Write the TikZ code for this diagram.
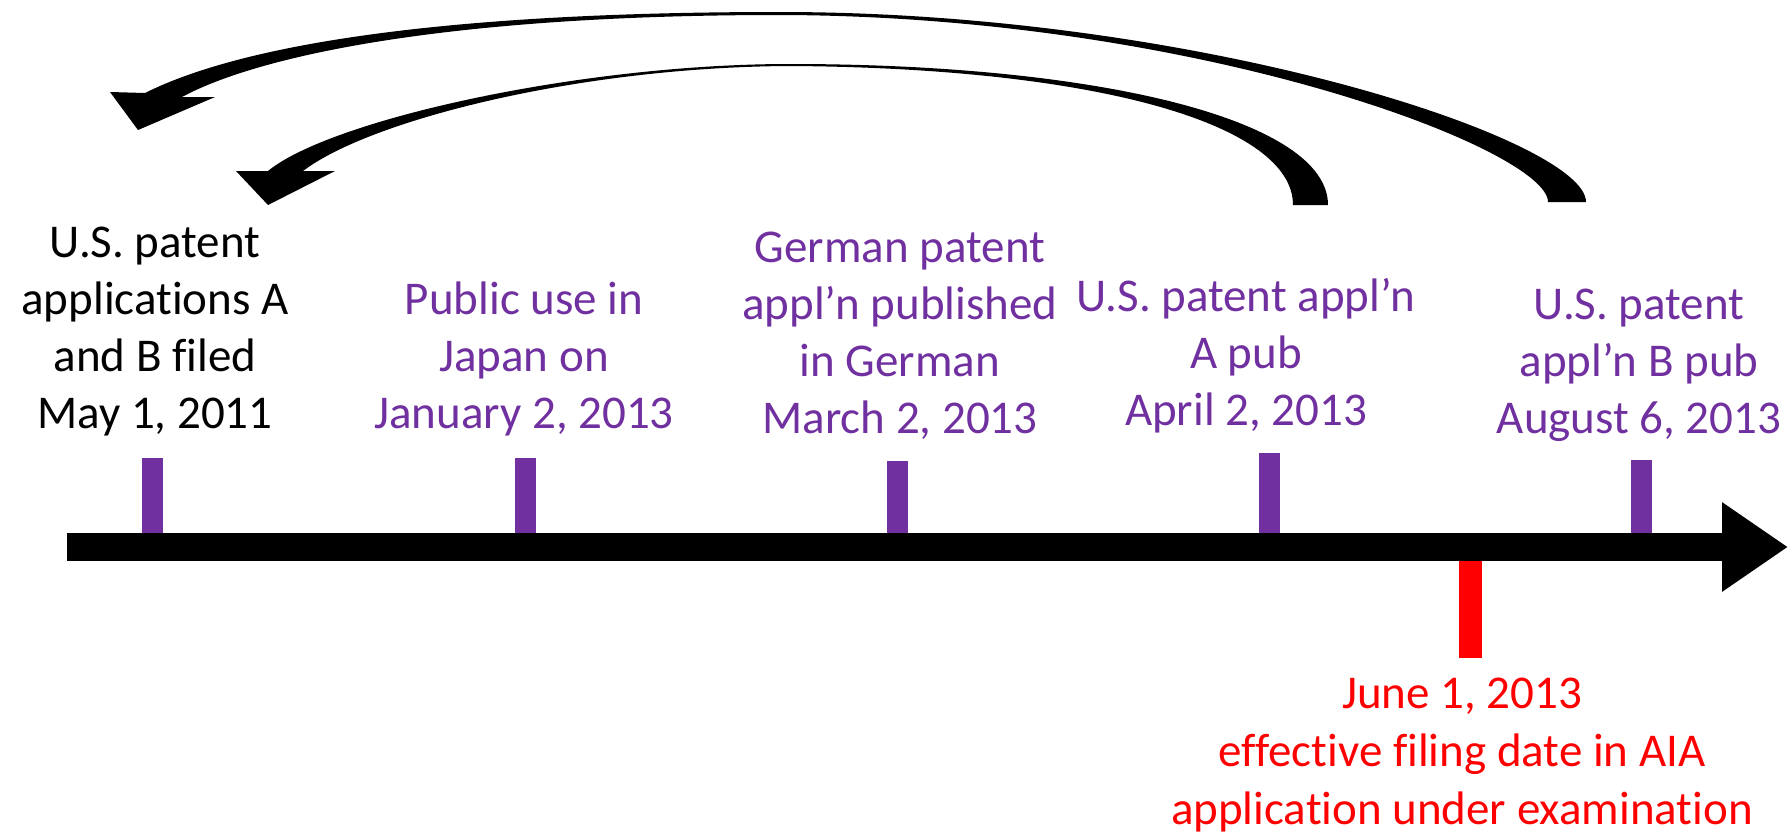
\documentclass[tikz,border=0pt]{standalone}
\usepackage{fontspec}
\setmainfont{Carlito}[Ligatures=NoCommon]
\usepackage{tikz}
\usetikzlibrary{arrows.meta}
\usetikzlibrary{positioning}
\definecolor{tlpurple}{HTML}{7030A0}
\definecolor{tlred}{HTML}{FF0000}
\tikzstyle{tick}=[
        rectangle,
        fill=tlpurple,
        minimum width=21pt,
        inner sep=0pt,
        anchor=south
]
\tikzstyle{efftick}=[rectangle,fill=tlred,minimum width=23pt,minimum height=97pt,inner sep=0pt,anchor=north]
\tikzstyle{lbl}=[align=center,inner sep=0pt,anchor=base,font=\fontsize{47}{57}\selectfont]
\tikzstyle{timeline}=[-{Triangle[length=66pt,width=85pt]},line width=28pt]
\tikzstyle{bigcurve}=[fill=black]

\begin{document}
\begin{tikzpicture}[x=1pt,y=-1pt]
\useasboundingbox (0,0) rectangle (1788,835);
\coordinate (tstart) at (67,547);
\coordinate (tend) at (1788,547);
\node[tick,minimum height=75pt] (t1) at (152,533) {};
\node[tick,minimum height=75pt] (t2) at (525,533) {};
\node[tick,minimum height=72pt] (t3) at (897,533) {};
\node[tick,minimum height=80pt] (t4) at (1269,533) {};
\node[tick,minimum height=73pt] (t5) at (1641,533) {};
\node[efftick] (eff) at (1470,561) {};
%timeline
\draw[timeline] (tstart) -- (tend);
\node[lbl] (l1) at (155,428) {U.S. patent\\applications A\\and B filed\\May 1, 2011};
\node[lbl,text=tlpurple] (l2) at (524,428) {Public use in\\Japan on\\January 2, 2013};
\node[lbl,text=tlpurple] (l3) at (900,433) {German patent\\appl’n published\\in German\\March 2, 2013};
\node[lbl,text=tlpurple] (l4) at (1246,425) {U.S. patent appl’n\\A pub\\April 2, 2013};
\node[lbl,text=tlpurple] (l5) at (1639,433) {U.S. patent\\appl’n B pub\\August 6, 2013};
\node[lbl,text=tlred,font=\fontsize{47}{58}\selectfont] (l6) at (1462,824) {June 1, 2013\\effective filing date in AIA\\application under examination};
%curved arrows
\fill[bigcurve] (1586,202) .. controls (1586,140) and (1200,12) .. (780,12)
  .. controls (450,12) and (245,43) .. (145,93) -- (110,92) -- (138,130) -- (215,97) -- (182,97)
  .. controls (260,55) and (450,15) .. (780,15) .. controls (1200,16) and (1548,150) .. (1548,202) -- cycle;
\fill[bigcurve] (1328,205) .. controls (1328,120) and (1100,64) .. (790,64)
  .. controls (580,64) and (330,120) .. (268,171) -- (236,171) -- (268,205) -- (335,171) -- (303,171)
  .. controls (370,120) and (580,67) .. (790,66) .. controls (1100,68) and (1293,125) .. (1293,205) -- cycle;
\end{tikzpicture}
\end{document}
